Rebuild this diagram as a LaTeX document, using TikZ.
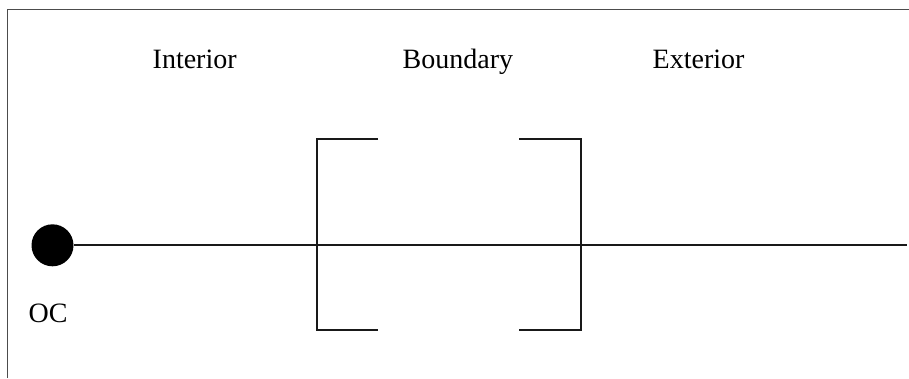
\documentclass[tikz,border=0pt]{standalone}
\usepackage{fontspec}
\setmainfont{Liberation Serif}
\begin{document}
\begin{tikzpicture}[x=1pt,y=-1pt,
  lbl/.style={inner sep=0pt,anchor=base west,font=\fontsize{28}{33}\selectfont},
  ln/.style={line width=1.8pt,draw=black!90},
  frame/.style={line width=1.6pt,draw=black!70}]
\useasboundingbox (0,0) rectangle (909,378);
\draw[frame] (7.3,378) -- (7.3,9.3) -- (909,9.3);
\node[circle,fill=black,inner sep=0pt,minimum size=42pt] (oc) at (52.5,245.3) {};
\coordinate (end) at (906.7,245.3);
\draw[ln] (oc.east) -- (end);
\draw[ln] (378,139.3) -- (316.7,139.3) -- (316.7,330) -- (378,330);
\draw[ln] (519.3,139.3) -- (581,139.3) -- (581,330) -- (519.3,330);
\node[lbl] (interior) at (152.5,68.3) {Interior};
\node[lbl] (boundary) at (402.5,68.3) {Boundary};
\node[lbl] (exterior) at (652.5,68.3) {Exterior};
\node[lbl] (oclbl) at (28.5,322.7) {OC};
\end{tikzpicture}
\end{document}
